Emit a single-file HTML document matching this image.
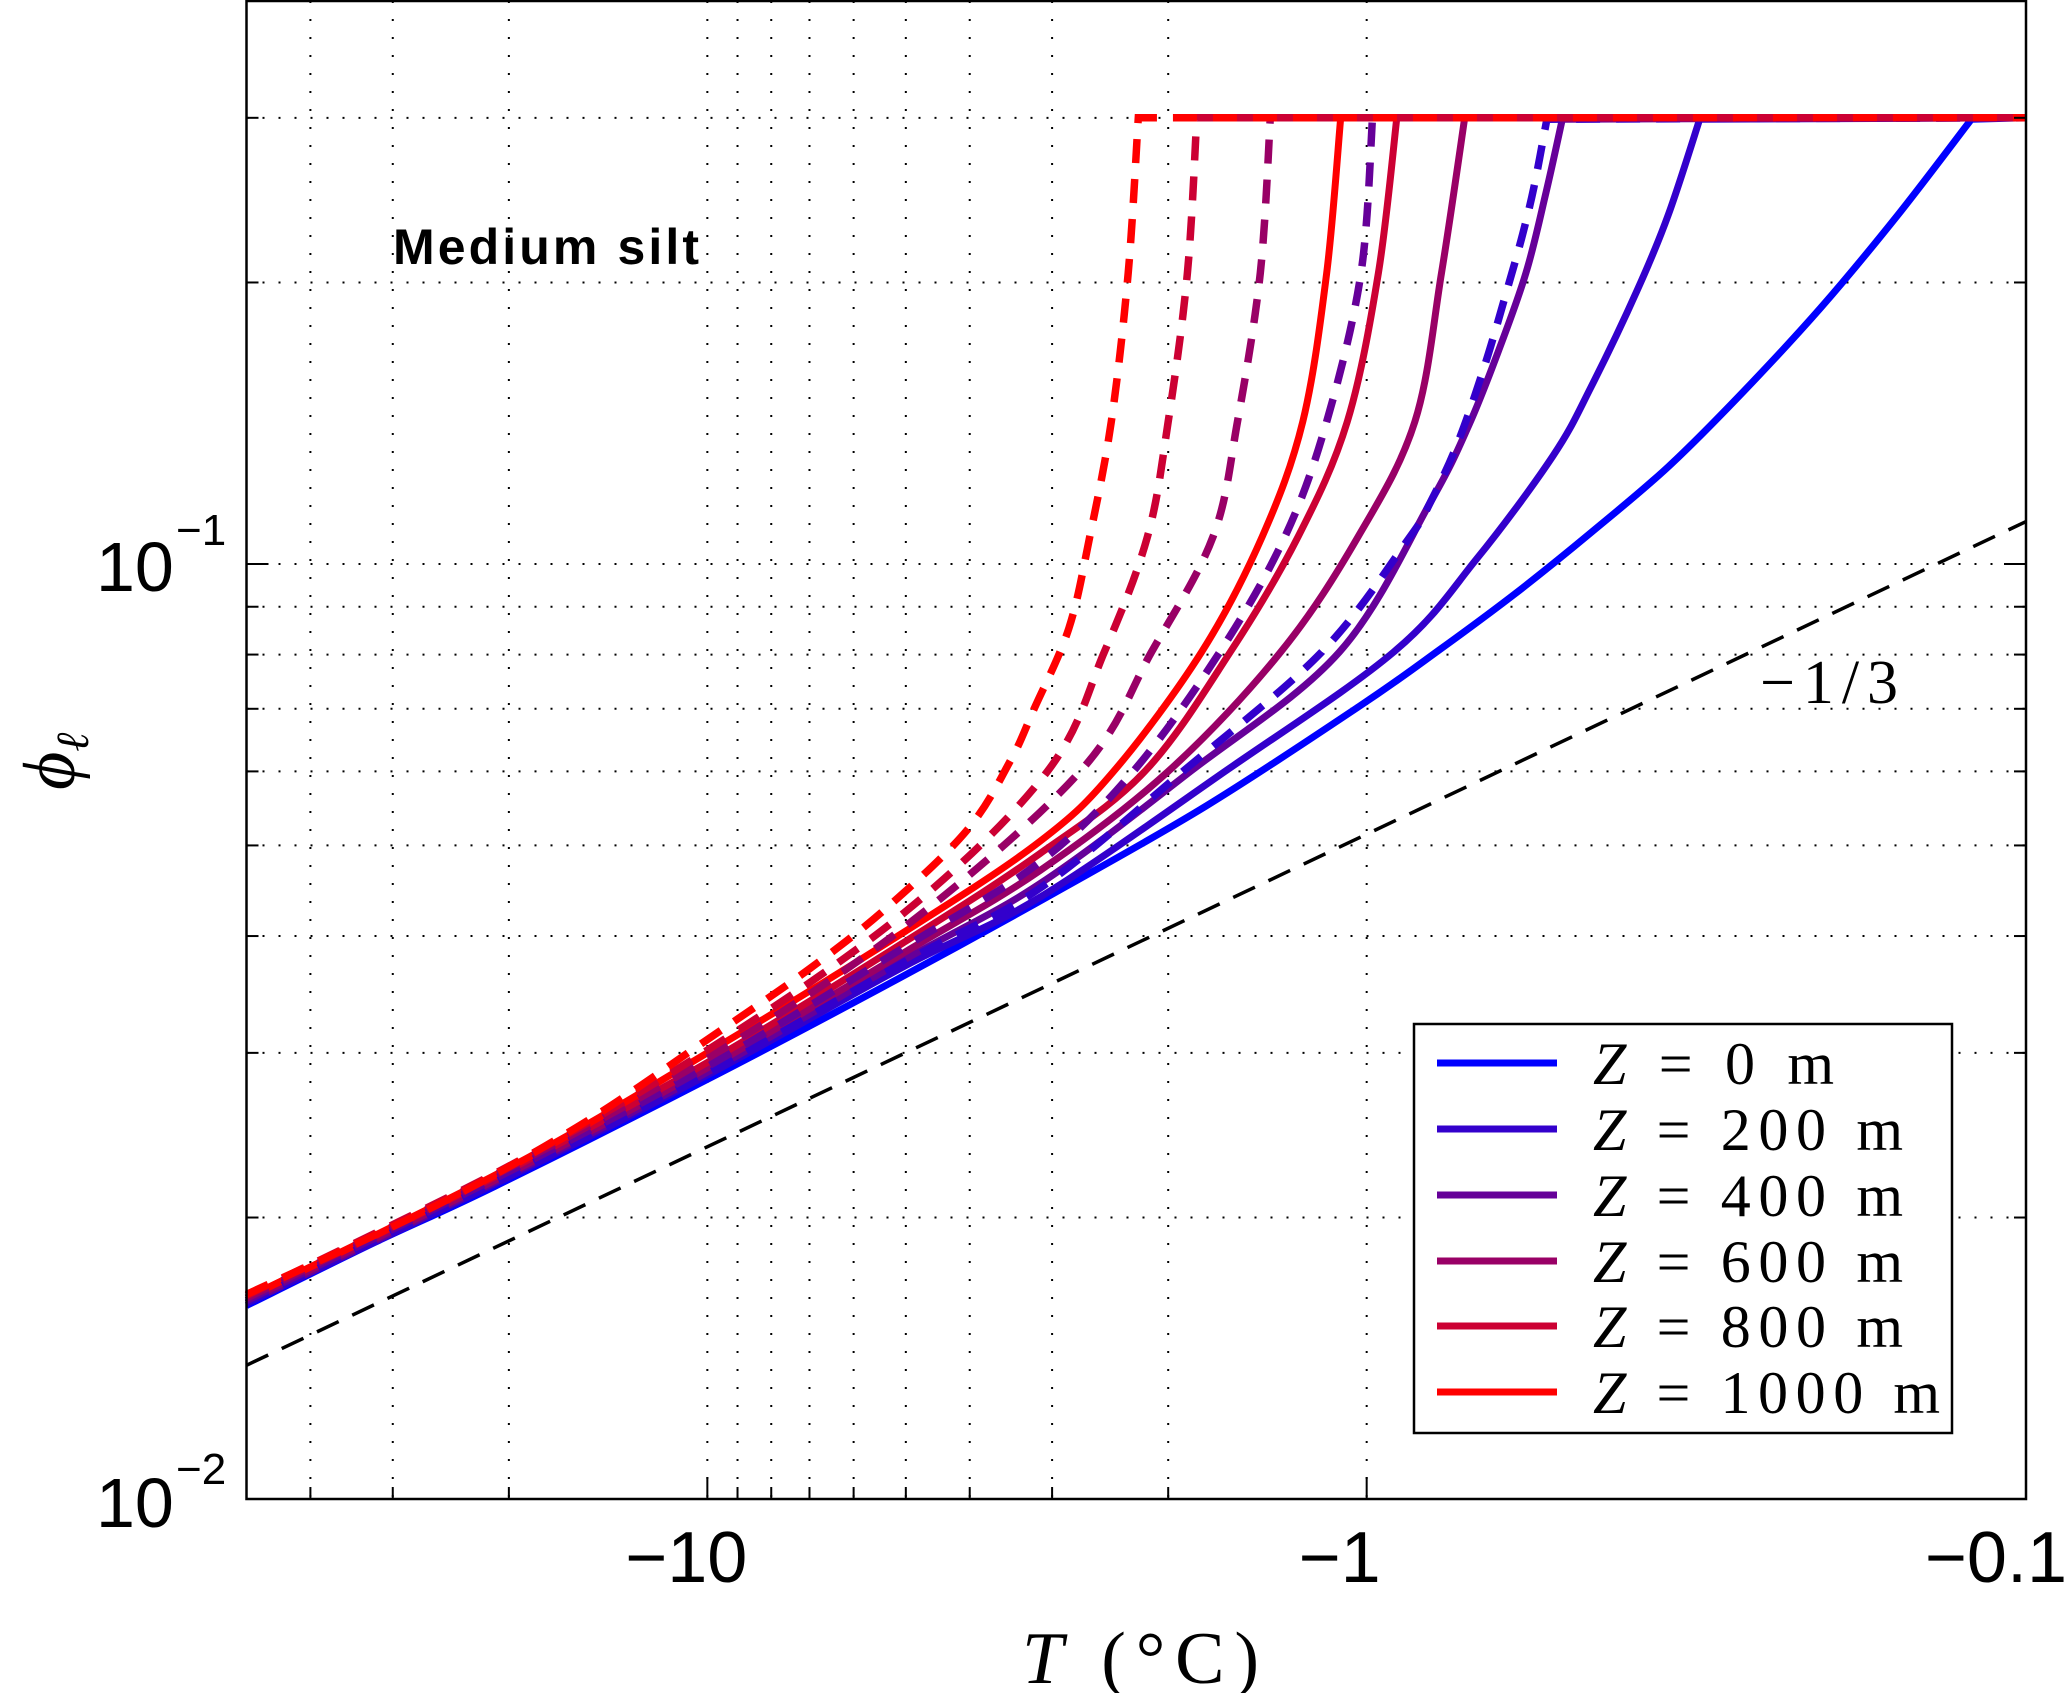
<!DOCTYPE html>
<html><head><meta charset="utf-8"><style>
html,body{margin:0;padding:0;background:#fff;}
svg{display:block;}
</style></head><body>
<svg id="chart" width="2067" height="1693" viewBox="0 0 2067 1693" xmlns="http://www.w3.org/2000/svg">
<rect x="0" y="0" width="2067" height="1693" fill="#fff"/>
<g id="grid"></g>
<g id="series"></g>
<rect x="246.5" y="1" width="1779.5" height="1498" fill="none" stroke="#000" stroke-width="2.5"/>
<g id="ticks"></g>
<text x="393" y="264" font-family="Liberation Sans, sans-serif" font-weight="bold" font-size="50" textLength="306">Medium silt</text>
<text x="1760" y="703" font-family="Liberation Serif, serif" font-size="62" textLength="138">−1/3</text>
<g font-family="Liberation Sans, sans-serif">
<text x="96" y="591" font-size="70">10</text><text x="176" y="545" font-size="44">−1</text></g>
<g font-family="Liberation Sans, sans-serif">
<text x="96" y="1527" font-size="70">10</text><text x="176" y="1484" font-size="44">−2</text></g>
<g id="xlabels" font-family="Liberation Sans, sans-serif" font-size="72"></g>
<text x="1022" y="1683" font-family="Liberation Serif, serif" font-size="74" textLength="237"><tspan font-style="italic">T</tspan> (°C)</text>
<text transform="translate(74,790) rotate(-90)" font-family="Liberation Serif, serif" font-size="74"><tspan font-style="italic">ϕ</tspan><tspan font-style="italic" font-size="46" dy="14">ℓ</tspan></text>
<g>
<rect x="1414" y="1024" width="538" height="409" fill="#fff" stroke="#000" stroke-width="2.5"/>
<g id="legend-entries"></g>
</g>
</svg>
<script>
// ---- data ----
const depths = [0, 200, 400, 600, 800, 1000];
const colors = ["#0000ff", "#3300cc", "#660099", "#990066", "#cc0033", "#ff0000"];
const solidT0 = [50,32,21,10,5.1,2.99,1.752,1.027,0.78,0.596,0.457,0.349,0.268,0.2047,0.1566,0.121,0.1];
const solidP0 = [0.0161,0.0188,0.0216,0.0281,0.0361,0.0444,0.0551,0.0704,0.0807,0.0929,0.108,0.127,0.153,0.188,0.236,0.299,0.3];
const solidT200 = [50,20,10,5,3.13,1.64,0.91,0.6815,0.522,0.457,0.389,0.349,0.3125,0.1];
const solidP200 = [0.0162,0.0221,0.0284,0.0372,0.044,0.06,0.0805,0.1012,0.1304,0.1545,0.196,0.236,0.299,0.3];
const solidT400 = [50,20,10,5,3.13,1.85,1.10,0.80,0.70,0.629,0.573,0.536,0.505,0.1];
const solidP400 = [0.0162,0.0222,0.0286,0.0378,0.0455,0.06,0.0805,0.1165,0.1407,0.170,0.205,0.2475,0.299,0.3];
const solidT600 = [50,20,10,5,3.13,2.0,1.35,1.03,0.845,0.77,0.71,0.1];
const solidP600 = [0.0163,0.0223,0.0289,0.0385,0.047,0.06,0.0805,0.107,0.142,0.2047,0.3,0.3];
const solidT800 = [50,20,10,5,3.13,2.17,1.61,1.27,1.07,0.96,0.90,0.1];
const solidP800 = [0.0164,0.0225,0.0293,0.0395,0.049,0.06,0.0805,0.107,0.142,0.2047,0.3,0.3];
const solidT1000 = [50,20,10,5,3.13,2.42,1.78,1.44,1.25,1.15,1.095,0.1];
const solidP1000 = [0.0164,0.0226,0.030,0.0405,0.0505,0.06,0.0805,0.107,0.142,0.2047,0.3,0.3];
const dashT200 = [50,20,10,5,3.13,1.90,1.17,0.867,0.80,0.729,0.664,0.613,0.580,0.557,0.533,0.1];
const dashP200 = [0.0162,0.0222,0.0285,0.0376,0.045,0.06,0.0805,0.106,0.1165,0.1343,0.162,0.196,0.2253,0.2537,0.299,0.3];
const dashT400 = [50,20,10,5,3.13,2.26,1.67,1.33,1.15,1.02,0.98,0.1];
const dashP400 = [0.0163,0.0224,0.029,0.039,0.048,0.06,0.0805,0.107,0.142,0.2047,0.3,0.3];
const dashT600 = [50,20,10,5,2.72,2.12,1.71,1.57,1.45,1.40,0.1];
const dashP600 = [0.0164,0.0226,0.0296,0.041,0.06,0.0805,0.107,0.142,0.2047,0.3,0.3];
const dashT800 = [50,20,10,5,3.05,2.5,2.15,2.0,1.87,1.81,0.1];
const dashP800 = [0.0165,0.0227,0.0302,0.0425,0.06,0.0805,0.107,0.142,0.2047,0.3,0.3];
const dashT1000 = [50,25.8,15.6,10,7,5.3,4.03,3.47,3.2,2.83,2.63,2.44,2.30,2.22,0.1];
const dashP1000 = [0.01655,0.0206,0.0251,0.031,0.0369,0.0431,0.052,0.0616,0.0698,0.0853,0.107,0.142,0.2047,0.3,0.3];
const refT = [50, 0.1];
const refP = [0.0139, 0.111];
const xTickValues = [10, 1, 0.1];
const xTickLabels = ["−10", "−1", "−0.1"];
const xGridValues = [40,30,20,10,9,8,7,6,5,4,3,2,1];
const yGridValues = [0.02,0.03,0.04,0.05,0.06,0.07,0.08,0.09,0.1,0.2,0.3];
const legendLabels = ["0", "200", "400", "600", "800", "1000"];

// ---- axes ----
const X0 = 246.5, X1 = 2026, Y0 = 1499, Y1 = 1;
const xMin = Math.log10(50), xMax = Math.log10(0.1);
const yMin = Math.log10(0.01), yMax = Math.log10(0.4);
function xs(t){ return X0 + (Math.log10(t) - xMin) / (xMax - xMin) * (X1 - X0); }
function ys(p){ return Y0 + (Math.log10(p) - yMin) / (yMax - yMin) * (Y1 - Y0); }
const NS = "http://www.w3.org/2000/svg";
function mk(tag, attrs, parent){ const e = document.createElementNS(NS, tag); for (const k in attrs) e.setAttribute(k, attrs[k]); parent.appendChild(e); return e; }

// Catmull-Rom through all points but the last; final point joined with a straight segment (the cap plateau)
function curvePath(px, py){
  const n = px.length - 1;
  const f = v => v.toFixed(1);
  let s = "M" + f(px[0]) + "," + f(py[0]);
  for (let i = 0; i < n - 1; i++) {
    const i0 = Math.max(0, i - 1), i3 = Math.min(n - 1, i + 2);
    const c1x = px[i] + (px[i+1] - px[i0]) / 6, c1y = py[i] + (py[i+1] - py[i0]) / 6;
    const c2x = px[i+1] - (px[i3] - px[i]) / 6, c2y = py[i+1] - (py[i3] - py[i]) / 6;
    s += " C" + f(c1x) + "," + f(c1y) + " " + f(c2x) + "," + f(c2y) + " " + f(px[i+1]) + "," + f(py[i+1]);
  }
  s += " L" + f(px[n]) + "," + f(py[n]);
  return s;
}

const grid = document.getElementById("grid");
xGridValues.forEach(v => {
  const l = mk("line", {x1: xs(v), x2: xs(v), y1: Y1, y2: Y0, stroke: "#000", "stroke-width": 2, "stroke-dasharray": "2,16"}, grid);
  
  
});
yGridValues.forEach(v => {
  const l = mk("line", {x1: X0, x2: X1, y1: ys(v), y2: ys(v), stroke: "#000", "stroke-width": 2, "stroke-dasharray": "2,14"}, grid);
  
  
});

const ticks = document.getElementById("ticks");
yGridValues.concat([0.01]).forEach(v => {
  const big = (v === 0.1 || v === 0.01);
  const L = big ? 22 : 12;
  const a = mk("line", {x1: X0, x2: X0 + L, y1: ys(v), y2: ys(v), stroke: "#000", "stroke-width": 2}, ticks);
  
  
  const b = mk("line", {x1: X1, x2: X1 - L, y1: ys(v), y2: ys(v), stroke: "#000", "stroke-width": 2}, ticks);
  
  
});
xGridValues.concat([0.1]).forEach(v => {
  const big = (v === 10 || v === 1);
  const L = big ? 22 : 12;
  const a = mk("line", {x1: xs(v), x2: xs(v), y1: Y0, y2: Y0 - L, stroke: "#000", "stroke-width": 2}, ticks);
  
  
});

const xl = document.getElementById("xlabels");
const labelShift = [40, 14, 41];
xTickValues.forEach((v, i) => {
  const t = mk("text", {x: xs(v) + labelShift[i], y: 1582, "text-anchor": "end"}, xl);
  
  
  t.textContent = xTickLabels[i];
});

const sg = document.getElementById("series");
const ref = mk("line", {x1: xs(refT[0]), y1: ys(refP[0]), x2: xs(refT[1]), y2: ys(refP[1]), stroke: "#000", "stroke-width": 3.5, "stroke-dasharray": "24,15"}, sg);



const dashedT = [null, dashT200, dashT400, dashT600, dashT800, dashT1000];
const dashedP = [null, dashP200, dashP400, dashP600, dashP800, dashP1000];
const solidsT = [solidT0, solidT200, solidT400, solidT600, solidT800, solidT1000];
const solidsP = [solidP0, solidP200, solidP400, solidP600, solidP800, solidP1000];
for (let i = 0; i < depths.length; i++) {
  const st = solidsT[i], sp = solidsP[i];
  const p = mk("path", {d: curvePath(st.map(xs), sp.map(ys)), fill: "none", stroke: colors[i], "stroke-width": 7, "stroke-linejoin": "round"}, sg);
  
  
}
for (let i = 1; i < depths.length; i++) {
  const dt = dashedT[i], dp = dashedP[i];
  const p = mk("path", {d: curvePath(dt.map(xs), dp.map(ys)), fill: "none", stroke: colors[i], "stroke-width": 7.5, "stroke-dasharray": "24,16"}, sg);
  
  
}

const le = document.getElementById("legend-entries");
const rowY = [1063, 1129, 1195, 1261, 1326, 1392];
const rowEnd = [1834, 1903, 1903, 1903, 1903, 1940];
for (let i = 0; i < depths.length; i++) {
  const g = mk("g", {}, le);
  
  
  mk("line", {x1: 1437, x2: 1557, y1: rowY[i], y2: rowY[i], stroke: colors[i], "stroke-width": 7}, g);
  const t = mk("text", {x: 1593, y: rowY[i] + 21, "font-family": "Liberation Serif, serif", "font-size": 60, textLength: rowEnd[i] - 1593, lengthAdjust: "spacing"}, g);
  const z = mk("tspan", {"font-style": "italic"}, t); z.textContent = "Z";
  const r = mk("tspan", {}, t); r.textContent = " = " + legendLabels[i] + " m";
}
</script>
</body></html>
